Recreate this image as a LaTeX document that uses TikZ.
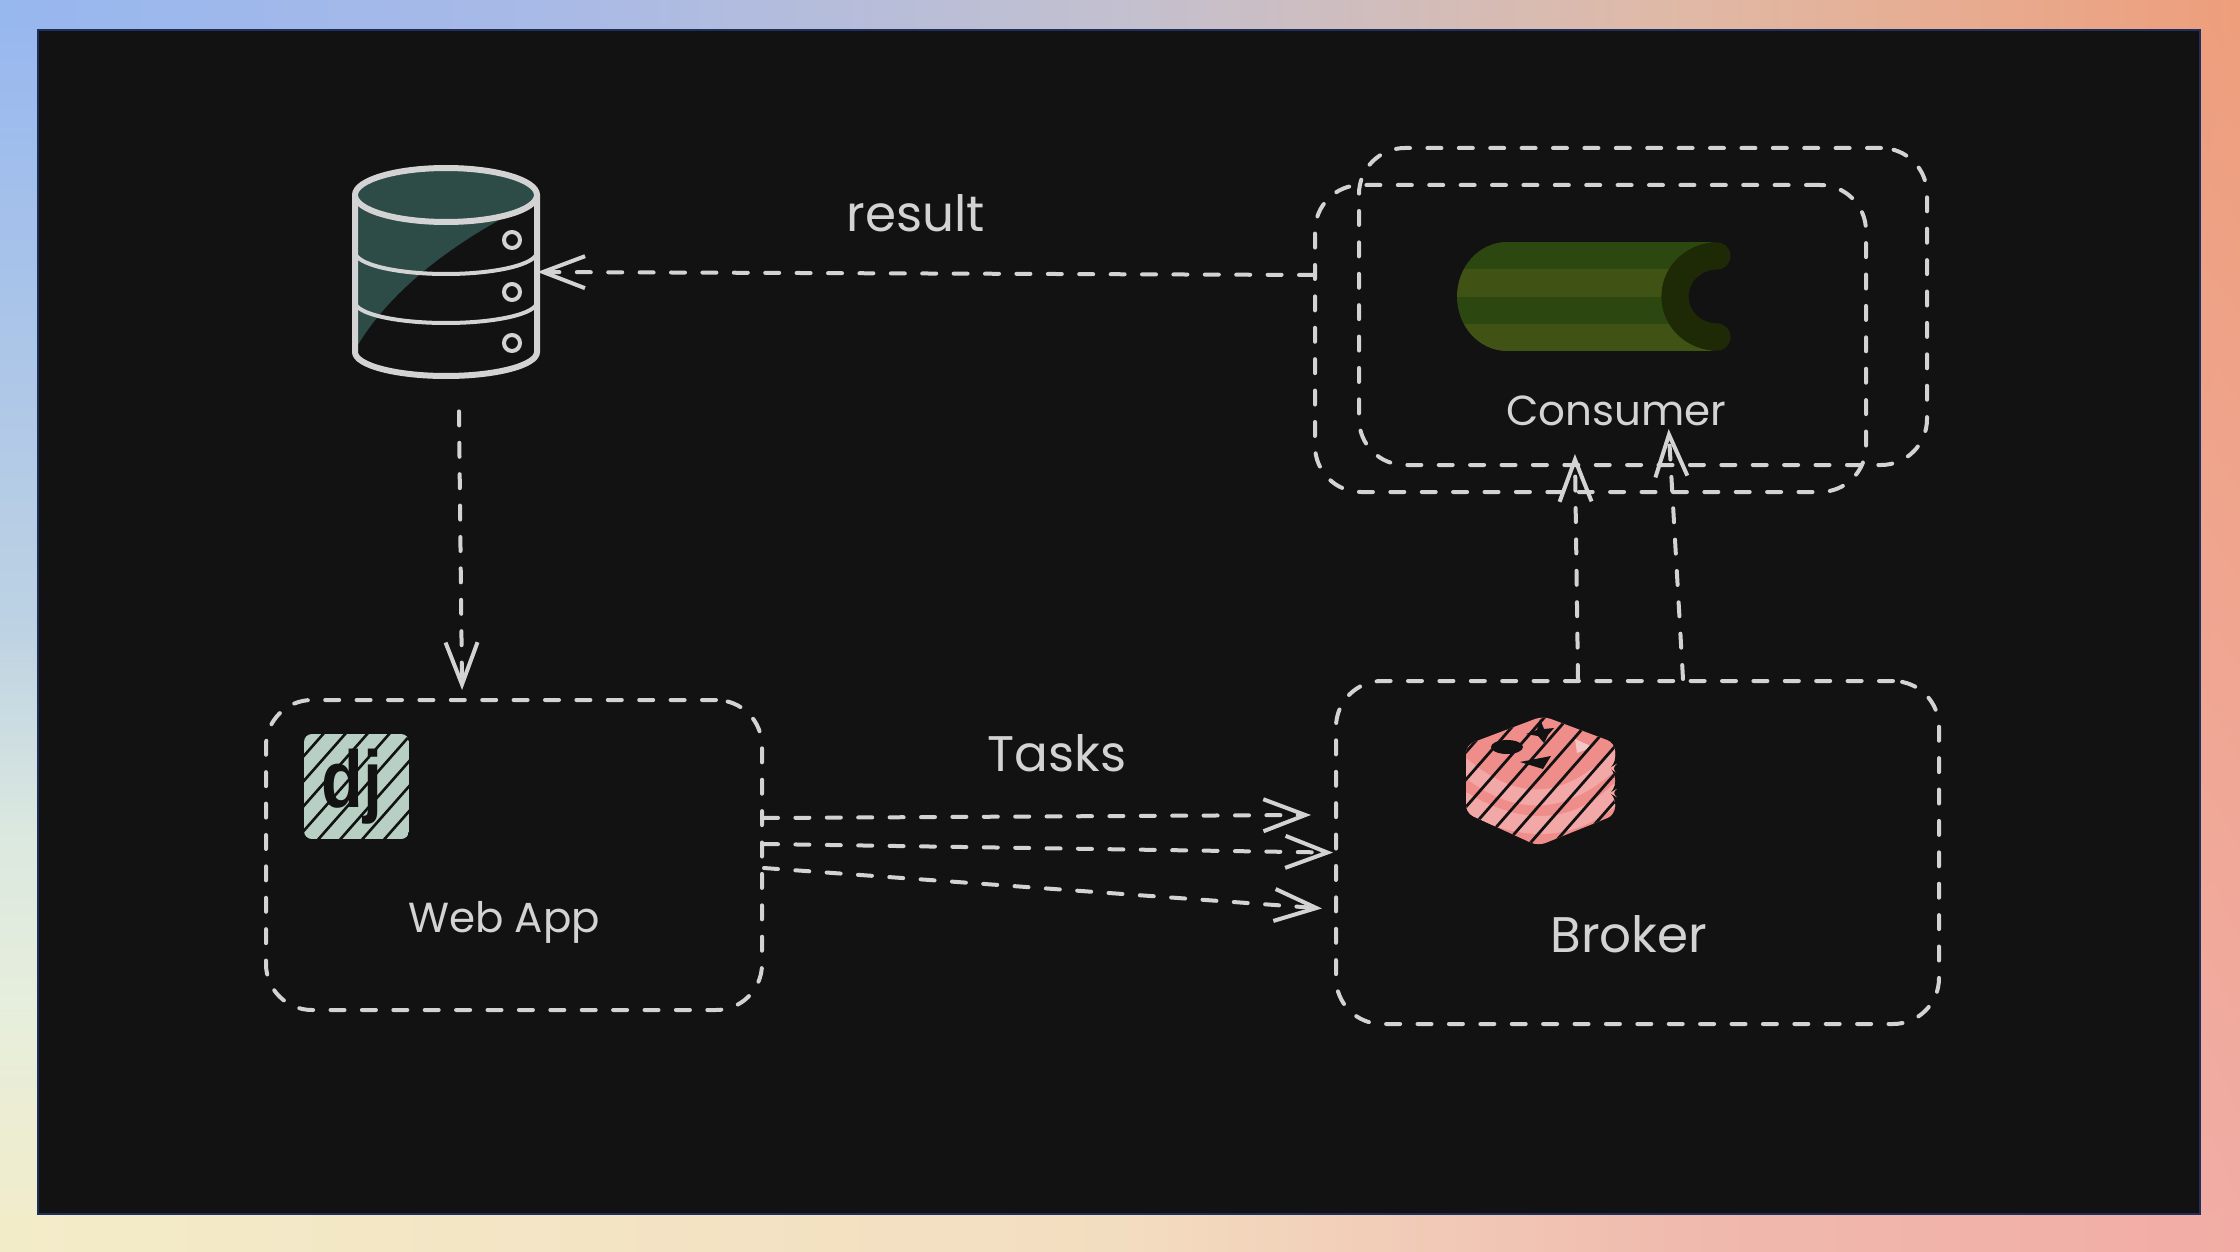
\documentclass[tikz,border=0pt]{standalone}
\usepackage{fontspec}
\setmainfont{Poppins}
\newfontfamily\djfont{Liberation Sans}
\usetikzlibrary{arrows.meta,shadings}
\definecolor{FrameNavy}{HTML}{1E2F5C}
\definecolor{PanelBlack}{HTML}{121212}
\definecolor{InkGray}{HTML}{D3D3D3}
\definecolor{BgBlue}{HTML}{97B7EF}
\definecolor{BgOrange}{HTML}{EE9E7B}
\definecolor{BgCream}{HTML}{F3ECC9}
\definecolor{BgPink}{HTML}{F2ACA5}
\definecolor{TopA}{HTML}{A9BAE6}
\definecolor{TopB}{HTML}{C3C0CF}
\definecolor{TopC}{HTML}{E0B9A6}
\definecolor{BottomA}{HTML}{F3DDC0}
\definecolor{BottomB}{HTML}{F0BAAE}
\definecolor{LeftA}{HTML}{E6EEDC}
\definecolor{LeftB}{HTML}{DBE8E0}
\definecolor{LeftC}{HTML}{BDD2E3}
\definecolor{DbTeal}{HTML}{2D4B47}
\definecolor{CukeDark}{HTML}{2D4710}
\definecolor{CukeLight}{HTML}{405315}
\definecolor{CukeEnd}{HTML}{1E2A06}
\definecolor{DjMint}{HTML}{B8CFC3}
\definecolor{RedisPink}{HTML}{EF8D8B}
\definecolor{RedisLight}{HTML}{F3A8A8}
\definecolor{RedisGlint}{HTML}{F5C6C6}

\begin{document}
\begin{tikzpicture}[x=0.5pt,y=-0.5pt,
  dbox/.style={draw=InkGray,line width=2pt,dash pattern=on 7pt off 8.7pt,line cap=round,rounded corners=23pt,minimum width=#1,inner sep=0pt},
  flow/.style={-{Straight Barb[length=21pt,width=16pt,line width=2pt]},draw=InkGray,line width=2pt,dash pattern=on 7pt off 8.7pt,line cap=round,shorten >=-3pt},
  label/.style={text=InkGray,font=\fontsize{21}{25}\selectfont,inner sep=0pt},
  dbline/.style={draw=InkGray,line width=2pt},
  hatchline/.style={draw=PanelBlack,line width=1.3pt}
]
\useasboundingbox (0,0) rectangle (2240,1252);
\shade[shading=bilinear interpolation,lower left=BgCream,upper left=BgBlue,upper right=BgOrange,lower right=BgPink] (0,0) rectangle (2240,1252);
\foreach \ya/\yb/\ca/\cb in {0/627/BgBlue/LeftC,626/827/LeftC/LeftB,826/1003/LeftB/LeftA,1002/1252/LeftA/BgCream}
  \shade[top color=\ca,bottom color=\cb] (0,\ya) rectangle (38,\yb);
\foreach \xa/\xb/\ca/\cb in {0/561/BgBlue/TopA,560/1121/TopA/TopB,1120/1681/TopB/TopC,1680/2240/TopC/BgOrange}
  \shade[left color=\ca,right color=\cb] (\xa,0) rectangle (\xb,30);
\foreach \xa/\xb/\ca/\cb in {0/1121/BgCream/BottomA,1120/1681/BottomA/BottomB,1680/2240/BottomB/BgPink}
  \shade[left color=\ca,right color=\cb] (\xa,1214) rectangle (\xb,1252);
\fill[PanelBlack,draw=FrameNavy,line width=1pt] (38,30) rectangle (2200,1214);

\node[dbox=248pt,minimum height=155pt] (webapp) at (514,855) {};
\node[dbox=301.5pt,minimum height=171.5pt] (broker) at (1637.5,852.5) {};
\node[dbox=275.5pt,minimum height=153.5pt] (consumerA) at (1590.5,338.5) {};
\node[dbox=284pt,minimum height=158.5pt] (consumerB) at (1643,306.5) {};
\node[minimum width=95pt,minimum height=107pt,inner sep=0pt] (dbase) at (446,272) {};

\fill[DbTeal] (355,195) -- (355,350) .. controls (380,305) and (430,258) .. (503,218) -- (537,195) -- cycle;
\draw[dbline,line width=3pt] (355,195) -- (355,352) arc[start angle=180,end angle=0,x radius=91,y radius=24] -- (537,195);
\draw[dbline,fill=DbTeal,line width=3pt] (446,195) ellipse[x radius=91,y radius=27];
\draw[dbline] (355,252) arc[start angle=180,end angle=0,x radius=91,y radius=22];
\draw[dbline] (355,302) arc[start angle=180,end angle=0,x radius=91,y radius=21];
\foreach \dy in {240,292,343}
  \draw[dbline] (512,\dy) circle[radius=8];

\begin{scope}
  \clip (1717,242) -- (1507,242) arc[start angle=-90,end angle=-270,x radius=50,y radius=54.5] -- (1717,351) arc[start angle=90,end angle=270,x radius=42,y radius=54.5] -- cycle;
  \fill[CukeDark] (1450,242) rectangle (1720,269);
  \fill[CukeLight] (1450,269) rectangle (1720,297);
  \fill[CukeDark] (1450,297) rectangle (1720,324);
  \fill[CukeLight] (1450,324) rectangle (1720,351);
\end{scope}
\draw[CukeEnd,line width=13.6pt,line cap=round] (1717,256) arc[start angle=-90,end angle=-270,x radius=42,y radius=40.5];

\begin{scope}
  \clip[rounded corners=4pt] (304,734) rectangle (409,839);
  \fill[DjMint] (304,734) rectangle (409,839);
  \node[inner sep=0pt,text=PanelBlack,transform shape,xscale=0.95,yscale=1.12,font=\djfont\bfseries\fontsize{36}{36}\selectfont] (djmark) at (352,787) {dj};
  \foreach \hx in {300,322,...,540}
    \draw[hatchline] (\hx+10,724) -- (\hx-102,851);
\end{scope}

\begin{scope}
  \clip[rounded corners=4pt] (1543,716) -- (1615,743) -- (1615,765) -- (1610,768) -- (1615,772) -- (1615,790) -- (1610,793) -- (1615,796) -- (1615,815) -- (1538,846) -- (1466,813) -- (1466,745) -- cycle;
  \fill[RedisPink] (1460,710) rectangle (1620,850);
  \draw[RedisLight,line width=8pt] (1462,765) .. controls (1510,805) and (1560,815) .. (1620,755);
  \draw[RedisLight,line width=9pt] (1462,800) .. controls (1510,830) and (1570,840) .. (1620,790);
  \draw[RedisLight,line width=4pt] (1470,835) -- (1540,860);
  \fill[PanelBlack] (1507,747) ellipse[x radius=16,y radius=7];
  \fill[PanelBlack] (1520,762) -- (1551,756) -- (1543,769) -- cycle;
  \fill[PanelBlack] (1540,719) -- (1544,729) -- (1554,728) -- (1548,735) -- (1544,743) -- (1538,736) -- (1526,734) -- (1537,730) -- cycle;
  \fill[RedisGlint] (1575,739) -- (1593,747) -- (1577,753) -- cycle;
  \foreach \hx in {1470,1494,...,1730}
    \draw[hatchline,line width=1.4pt] (\hx+15,703) -- (\hx-120,857);
\end{scope}

\node[label,font=\fontsize{25}{30}\selectfont] (resultlabel) at (916,213) {result};
\node[label,font=\fontsize{25}{30}\selectfont] (taskslabel) at (1057,753) {Tasks};
\node[label] (webapplabel) at (504,922) {Web App};
\node[label,font=\fontsize{25}{30}\selectfont] (brokerlabel) at (1629,934) {Broker};
\node[label] (consumerlabel) at (1616,411) {Consumer};

\draw[flow] ([yshift=31.75pt]consumerA.west) -- ([xshift=1pt]dbase.east);
\draw[flow] ([xshift=6.5pt,yshift=-16pt]dbase.south) -- ([xshift=-26pt,yshift=7pt]webapp.north);
\draw[flow] ([yshift=18.5pt]webapp.east) -- ([xshift=-14.5pt,yshift=18.75pt]broker.west);
\draw[flow] ([yshift=5.5pt]webapp.east) -- ([xshift=-3.5pt]broker.west);
\draw[flow] ([yshift=-6.5pt]webapp.east) -- ([xshift=-9pt,yshift=-27.75pt]broker.west);
\draw[flow] ([xshift=-29.75pt]broker.north) -- ([xshift=-7.75pt,yshift=17pt]consumerA.south);
\draw[flow] ([xshift=22.75pt]broker.north) -- ([xshift=13pt,yshift=16pt]consumerB.south);
\end{tikzpicture}
\end{document}
